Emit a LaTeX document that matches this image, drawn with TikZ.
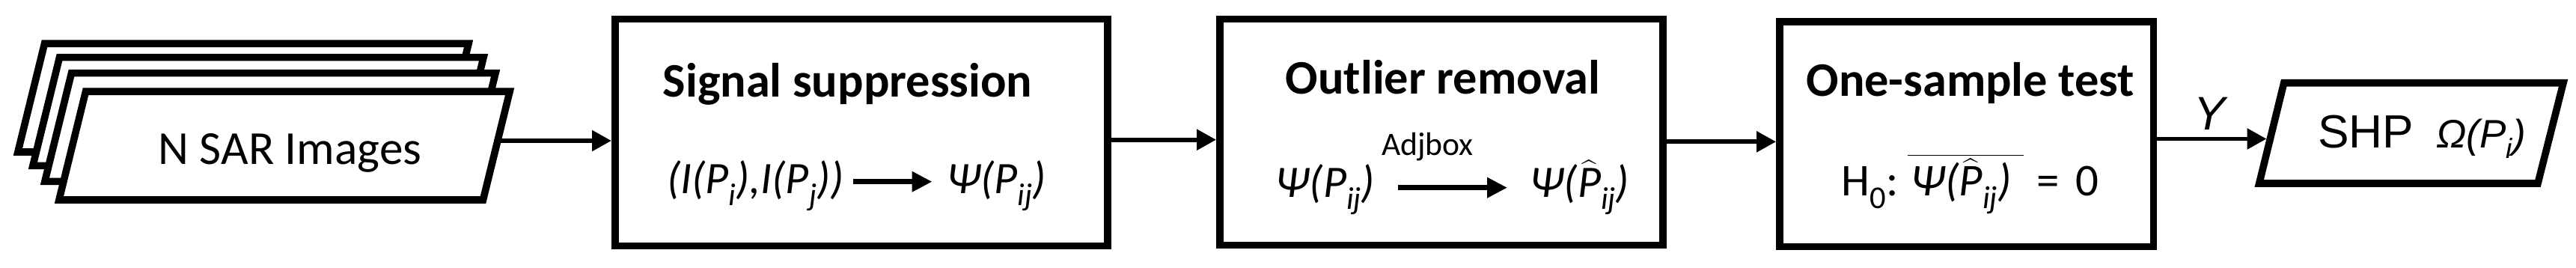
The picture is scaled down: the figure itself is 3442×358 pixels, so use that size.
\documentclass[tikz,border=0pt]{standalone}
\usepackage{fontspec}
\usepackage{graphicx}
\setmainfont{Carlito}
\newfontfamily\arialf{Liberation Sans}
\usetikzlibrary{arrows.meta}
\newdimen\pxu \pxu=0.01cm
\newcommand\sbs[1]{\raisebox{-0.27em}{\scalebox{0.7}{#1}}}
\newcommand\hatP{$\widehat{\hbox{\itshape P}}$}
\newcommand\olbox[1]{$\overline{\hbox{#1}}$}
\tikzset{
  frame/.style={draw, line width=0.096cm, fill=white, inner sep=0pt},
  card/.style={draw, line width=0.096cm, fill=white, line join=miter},
  arr/.style={line width=0.057cm, -{Triangle[length=0.26cm, width=0.27cm]}},
  farr/.style={line width=0.07cm, -{Triangle[length=0.27cm, width=0.26cm]}},
  txt/.style={inner sep=0pt, anchor=base},
  ttl/.style={txt, font=\fontsize{18.3}{20}\selectfont\bfseries},
  fm/.style={font=\fontsize{17.1}{20}\selectfont\itshape}
}
\begin{document}
\begin{tikzpicture}[x=0.01cm, y=-0.01cm]
\useasboundingbox (0,0) rectangle (3442,358);
% stacked images
\foreach \dx/\dy in {-55/-64, -35/-45.6, -19/-24.6}
  \draw[card] ({114.5+(\dx)},{122.3+(\dy)}) -- ({681.1+(\dx)},{122.3+(\dy)})
     -- ({645.5+(\dx)},{267+(\dy)}) -- ({78.9+(\dx)},{267+(\dy)}) -- cycle;
\draw[card] (114.5,122.3) -- (681.1,122.3) -- (645.5,267) -- (78.9,267) -- cycle;
\node[txt, font=\fontsize{18}{20}\selectfont] (imgs) at (387.5,220) {N SAR Images};
\coordinate (imgsout) at (664.9,188);
% boxes
\node[frame, minimum width=6.58cm, minimum height=3.026cm] (b1) at (1151,177) {};
\node[frame, minimum width=5.92cm, minimum height=3.018cm] (b2) at (1926,176.6) {};
\node[frame, minimum width=4.995cm, minimum height=3.003cm] (b3) at (2627.75,179.15) {};
% output
\draw[card] (3051.7,110.8) -- (3425,110.8) -- (3391,245) -- (3018.7,245) -- cycle;
\node[txt, font=\arialf\fontsize{17.7}{20}\selectfont] (shp) at (3236,197.3)
  {SHP\hspace{0.3cm}{\fontsize{15.1}{16}\selectfont\itshape Ω(P\sbs{i})}};
\coordinate (shpin) at (3028.5,185.5);
% connectors
\coordinate (y2) at (0,186.7);
\coordinate (y3) at (0,189.3);
\draw[arr] (imgsout) -- (imgsout -| b1.west);
\draw[arr] (b1.east |- y2) -- (b2.west |- y2);
\draw[arr] (b2.east |- y3) -- (b3.west |- y3);
\draw[arr] (b3.east |- shpin) -- (shpin);
\node[txt, font=\arialf\fontsize{17.9}{20}\selectfont\itshape] (ylab) at (2952,173.3) {Y};
% titles
\node[ttl] (t1) at (1132.5,130) {Signal suppression};
\node[ttl] (t2) at (1928,126) {Outlier removal};
\node[ttl] (t3) at (2632.7,128.3) {One-sample test};
% box 1 formula
\node[txt, fm] (f1a) at (1009.3,258.3) {(I(P\sbs{i}),I(P\sbs{j}))};
\node[txt, fm] (f1b) at (1331.4,258.3) {Ψ(P\sbs{ij})};
\draw[farr] ([xshift=0.113cm, yshift=0.156cm]f1a.base east) -- ([xshift=-0.19cm, yshift=0.156cm]f1b.base west);
% box 2 formula
\node[txt, fm] (f2a) at (1770.9,263.3) {Ψ(P\sbs{ij})};
\node[txt, fm] (f2b) at (2110.9,263.3) {Ψ(\hatP\sbs{ij})};
\draw[farr] ([xshift=0.3cm, yshift=0.126cm]f2a.base east) -- ([xshift=-0.3cm, yshift=0.126cm]f2b.base west);
\node[txt, font=\fontsize{12.4}{14}\selectfont] (adj) at (1907.5,207.3) {Adjbox};
% box 3 formula
\node[txt, font=\fontsize{17.3}{20}\selectfont] (f3) at (2632.5,261.7)
  {H\sbs{0}:\hspace{0.2em}\olbox{\kern0.05cm\itshape Ψ(\hatP\sbs{ij})\kern0.16cm}\hspace{0.3em}=\hspace{0.35em}0};
\end{tikzpicture}
\end{document}
